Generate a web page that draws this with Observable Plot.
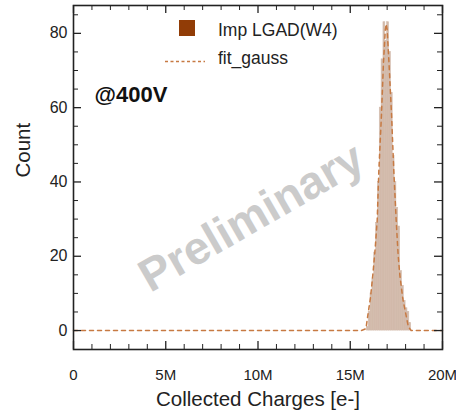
<!DOCTYPE html>
<html><head><meta charset="utf-8">
<script src="https://cdn.jsdelivr.net/npm/d3@7"></script>
<script src="https://cdn.jsdelivr.net/npm/@observablehq/plot@0.6"></script>
<style>body{margin:0;background:#fff;overflow:hidden}</style>
</head><body><div id="chart"></div>
<script>
// Histogram bins (collected charges in millions of e-), width 0.1M
const binStart = [15.9,16.0,16.1,16.2,16.3,16.4,16.5,16.6,16.7,16.8,16.9,17.0,17.1,17.2,17.3,17.4,17.5,17.6,17.7,17.8,17.9,18.0,18.1,18.2];
const counts   = [1,   5,   10,  14,  21,  29,  40,  60,  73,  83,  78,  83,  75,  64,  47,  40,  33,  28,  16,  12,  8,   6,   5,   2];
const binWidth = 0.1;
// Gaussian fit curve
const fitX = [0, 15.6, 15.85, 15.95, 16.1, 16.22, 16.35, 16.46, 16.55, 16.69, 16.8, 16.9, 16.95, 17.0, 17.1, 17.24, 17.36, 17.49, 17.6, 17.69, 17.85, 18.03, 18.15, 18.3, 20];
const fitY = [0, 0,    0.5,   4,     9,    14.8,  22,    29.6,  43,    57.9,  72,   81,   82.5,  81,   72,   57.9,  43,    29.6,  20,   14.8,  8.5,   4,     1,     0,    0];
// Ticks
const xMajorTicks = [0, 5, 10, 15, 20];
const xMinorTicks = [1,2,3,4,6,7,8,9,11,12,13,14,16,17,18,19];
const yMajorTicks = [0, 20, 40, 60, 80];
const yMinorTicks = [5,10,15,25,30,35,45,50,55,65,70,75,85];
const seriesName = "Imp LGAD(W4)";
const fitName = "fit_gauss";

const hist = binStart.map((s, i) => ({x1: s, x2: s + binWidth, y: counts[i]}));
const fit = fitX.map((x, i) => ({x, y: fitY[i]}));

const W = 456, H = 413, mL = 73, mR = 14, mT = 5, mB = 64;
const pw = W - mL - mR, ph = H - mT - mB;
const font = "'Liberation Sans', Arial, sans-serif";
const ink = "#222";

const plot = Plot.plot({
  width: W, height: H,
  marginLeft: mL, marginRight: mR, marginTop: mT, marginBottom: mB,
  style: {fontFamily: font, color: ink, background: "#fff", overflow: "visible"},
  x: {domain: [0, 20]},
  y: {domain: [-5.1, 87.5]},
  marks: [
    Plot.text(["Preliminary"], {text: d => d, frameAnchor: "top-left", dx: 178, dy: 212, rotate: -30,
      fill: "#cbcbcb", fontSize: 46, fontWeight: "bold", textAnchor: "middle", lineAnchor: "middle"}),
    Plot.rectY(hist, {x1: "x1", x2: "x2", y1: 0, y2: "y", fill: "#d2baab", inset: 0, stroke: "#d2baab", strokeWidth: 0.6}),
    Plot.line(fit, {x: "x", y: "y", stroke: "#c77a43", strokeWidth: 1.5, strokeDasharray: "4,4"}),
    // ticks (inward), bottom & top
    Plot.tickX(xMajorTicks, {x: d => d, insetTop: ph - 8, stroke: ink, strokeWidth: 1.3}),
    Plot.tickX(xMinorTicks, {x: d => d, insetTop: ph - 5, stroke: ink, strokeWidth: 1}),
    Plot.tickX(xMajorTicks, {x: d => d, insetBottom: ph - 8, stroke: ink, strokeWidth: 1.3}),
    Plot.tickX(xMinorTicks, {x: d => d, insetBottom: ph - 5, stroke: ink, strokeWidth: 1}),
    // ticks left & right
    Plot.tickY(yMajorTicks, {y: d => d, insetRight: pw - 8, stroke: ink, strokeWidth: 1.3}),
    Plot.tickY(yMinorTicks, {y: d => d, insetRight: pw - 5, stroke: ink, strokeWidth: 1}),
    Plot.tickY(yMajorTicks, {y: d => d, insetLeft: pw - 8, stroke: ink, strokeWidth: 1.3}),
    Plot.tickY(yMinorTicks, {y: d => d, insetLeft: pw - 5, stroke: ink, strokeWidth: 1}),
    Plot.frame({stroke: ink, strokeWidth: 1.6}),
    Plot.axisX(xMajorTicks, {tickSize: 0, tickPadding: 20, fontSize: 15, label: null,
      tickFormat: d => d === 0 ? "0" : d + "M"}),
    Plot.axisY(yMajorTicks, {tickSize: 0, tickPadding: 6, fontSize: 16, label: null}),
    Plot.text(["Collected Charges [e-]"], {text: d => d, frameAnchor: "bottom", dy: 50, fontSize: 20.5, lineAnchor: "middle", fill: ink}),
    Plot.text(["Count"], {text: d => d, frameAnchor: "left", dx: -50, rotate: -90, fontSize: 20.5, lineAnchor: "middle", fill: ink}),
    Plot.text(["@400V"], {text: d => d, frameAnchor: "top-left", dx: 21, dy: 89, fontSize: 22, fontWeight: "bold",
      textAnchor: "start", lineAnchor: "middle", fill: "#111"})
  ]
});

// Legend inside the plot area
const svg = d3.select(plot);
const lg = svg.append("g").attr("font-family", font).attr("font-size", 17.5).attr("fill", ink).attr("text-anchor", "start");
lg.append("rect").attr("x", 179).attr("y", 20).attr("width", 16).attr("height", 16).attr("fill", "#913c06");
lg.append("text").attr("x", 218).attr("y", 35.5).attr("text-anchor", "start").text(seriesName);
lg.append("line").attr("x1", 165).attr("x2", 205).attr("y1", 61.5).attr("y2", 61.5)
  .attr("stroke", "#c77a43").attr("stroke-width", 1.3).attr("stroke-dasharray", "3,2.5");
lg.append("text").attr("x", 218).attr("y", 64).attr("text-anchor", "start").text(fitName);

document.getElementById("chart").append(plot);
</script>
</body></html>
